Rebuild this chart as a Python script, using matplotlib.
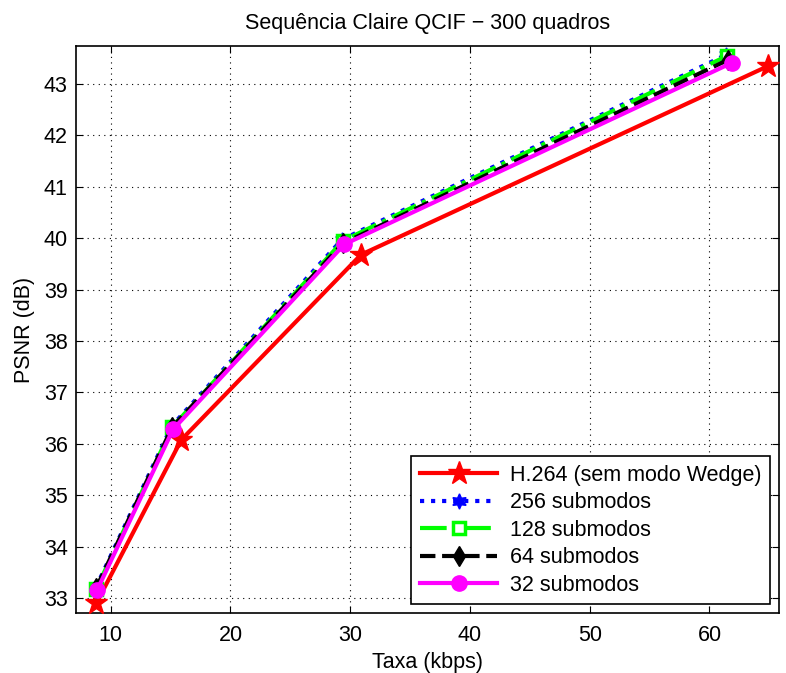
import matplotlib
matplotlib.use("Agg")
import matplotlib.pyplot as plt

plt.rcParams['font.family'] = ['Liberation Sans', 'DejaVu Sans']

# Rate (kbps) and PSNR (dB) for each configuration
rate_h264 = [8.8, 15.9, 30.9, 64.9]
psnr_h264 = [32.9, 36.08, 39.68, 43.35]

rate_256 = [8.75, 15.1, 29.3, 61.4]
psnr_256 = [33.2, 36.35, 39.97, 43.57]

rate_128 = [8.8, 15.15, 29.4, 61.5]
psnr_128 = [33.18, 36.33, 39.95, 43.55]

rate_64 = [8.8, 15.15, 29.4, 61.55]
psnr_64 = [33.2, 36.33, 39.9, 43.47]

rate_32 = [8.85, 15.2, 29.5, 61.85]
psnr_32 = [33.15, 36.28, 39.88, 43.41]

labels = ['H.264 (sem modo Wedge)', '256 submodos', '128 submodos',
          '64 submodos', '32 submodos']

x_ticks = [10, 20, 30, 40, 50, 60]
y_ticks = list(range(33, 44))

fs = 15.5

fig = plt.figure(figsize=(7.86, 6.73), dpi=100)
ax = fig.add_axes([0.0967, 0.0892, 0.8943, 0.8425])

lw = 3
ax.plot(rate_h264, psnr_h264, color='red', linestyle='-', linewidth=lw,
        marker='*', markersize=17, markerfacecolor='red', markeredgecolor='red',
        label=labels[0], zorder=3)
ax.plot(rate_256, psnr_256, color='blue', linestyle=':', linewidth=lw,
        marker=(6, 1, 0), markersize=11, markerfacecolor='blue', markeredgecolor='blue',
        label=labels[1], zorder=4)
ax.plot(rate_128, psnr_128, color='#00ff00', linestyle='-.', linewidth=lw,
        marker='s', markersize=8, markerfacecolor='white', markeredgecolor='#00ff00',
        markeredgewidth=2.5, label=labels[2], zorder=5)
ax.plot(rate_64, psnr_64, color='black', linestyle='--', linewidth=lw,
        marker='d', markersize=10, markerfacecolor='black', markeredgecolor='black',
        label=labels[3], zorder=6)
ax.plot(rate_32, psnr_32, color='magenta', linestyle='-', linewidth=lw,
        marker='o', markersize=11, markerfacecolor='magenta', markeredgecolor='magenta',
        label=labels[4], zorder=7)

ax.set_xlim(7.1, 65.8)
ax.set_ylim(32.71, 43.74)
ax.set_xticks(x_ticks)
ax.set_yticks(y_ticks)
ax.tick_params(direction='in', top=True, right=True, labelsize=fs, length=5, width=0.8)
ax.tick_params(axis='x', pad=9)
ax.tick_params(axis='y', pad=6)
ax.grid(True, linestyle=(0, (1, 4)), color='black', linewidth=0.8)
for s in ax.spines.values():
    s.set_linewidth(1.2)

ax.set_xlabel('Taxa (kbps)', fontsize=fs, labelpad=4)
ax.set_ylabel('PSNR (dB)', fontsize=fs, labelpad=6)
ax.set_title('Sequência Claire QCIF − 300 quadros', fontsize=fs, pad=12)

leg = ax.legend(loc='lower right', fontsize=fs, fancybox=False, framealpha=1,
                edgecolor='black', handlelength=3.6, borderaxespad=0.4,
                labelspacing=0.3, handletextpad=0.6, borderpad=0.4)
leg.get_frame().set_linewidth(1.2)

fig.savefig('out.png', dpi=100)
